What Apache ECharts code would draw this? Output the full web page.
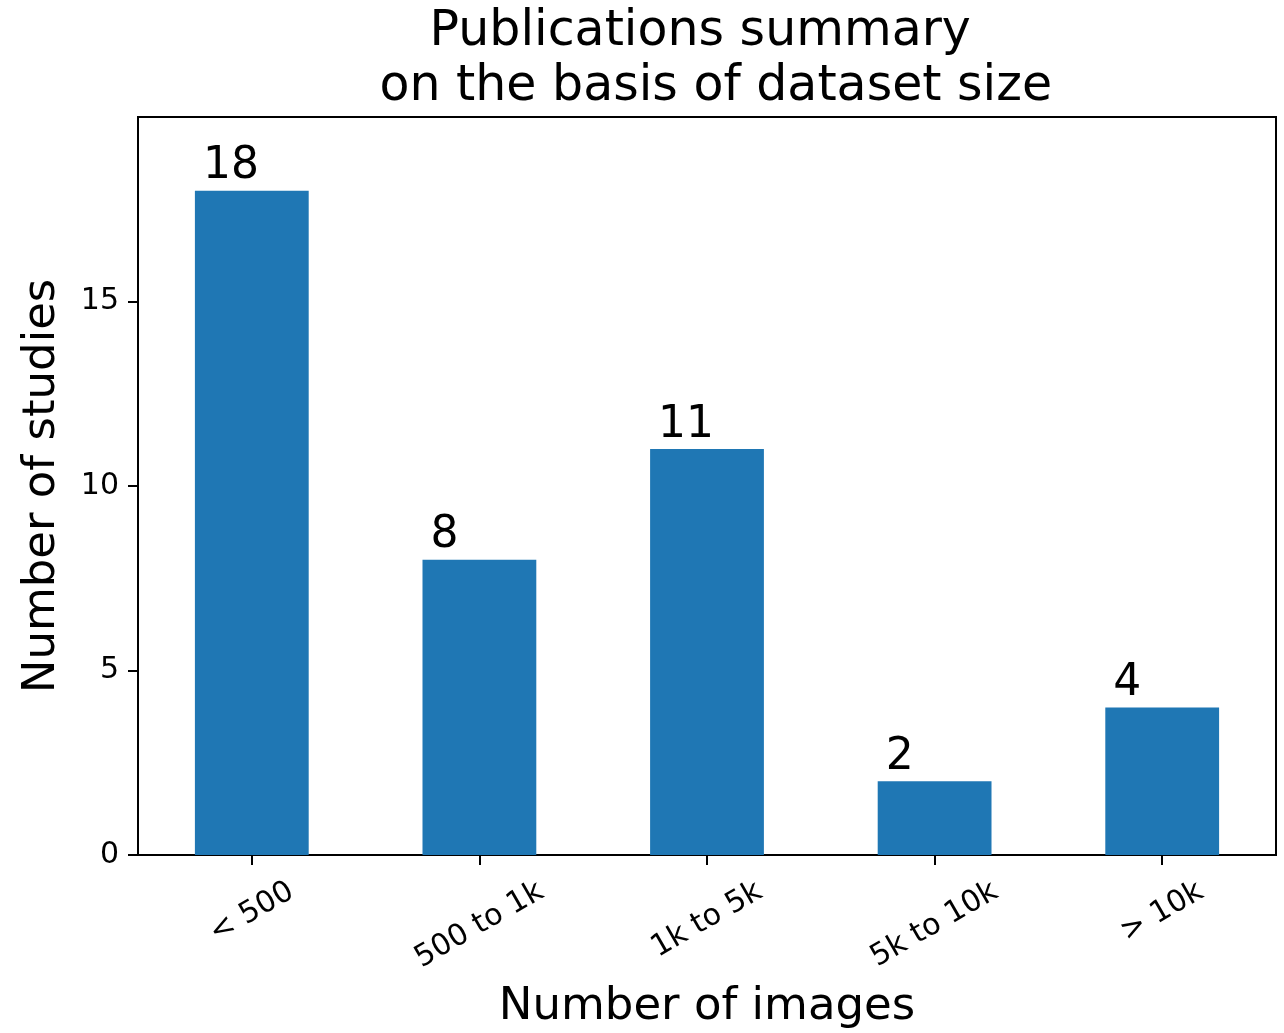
<!DOCTYPE html>
<html>
<head>
<meta charset="utf-8">
<script src="https://cdn.jsdelivr.net/npm/echarts@6/dist/echarts.min.js"></script>
<style>
html,body{margin:0;padding:0;background:#fff;}
#chart{width:1284px;height:1033px;}
</style>
</head>
<body>
<div id="chart"></div>
<script>
const categories = ['< 500', '500 to 1k', '1k to 5k', '5k to 10k', '> 10k'];
const studies = [18, 8, 11, 2, 4];
const yTicks = [0, 5, 10, 15];
const titleText = 'Publications summary \n on the basis of dataset size';
const xName = 'Number of images';
const yName = 'Number of studies';

const FONT = '"DejaVu Sans", sans-serif';
const tickFont = 30;

// per-label padding so rotated labels are top-aligned (matplotlib ha=center)
const cv = document.createElement('canvas').getContext('2d');
cv.font = tickFont + 'px "DejaVu Sans"';
const widths = categories.map(c => cv.measureText(c).width);
const wmin = Math.min.apply(null, widths);
const rich = {};
categories.forEach((c, i) => {
  const R = (widths[i] - wmin) / 4;
  rich['l' + i] = {
    fontSize: tickFont, fontFamily: FONT, color: '#000',
    padding: [R * 1.732, R, 0, 0]
  };
});

const chart = echarts.init(document.getElementById('chart'));
chart.setOption({
  animation: false,
  backgroundColor: '#fff',
  title: {
    text: titleText,
    left: 703,
    top: 0,
    textAlign: 'center',
    textStyle: { fontFamily: FONT, fontSize: 49, fontWeight: 'normal', color: '#000', lineHeight: 55 }
  },
  grid: {
    left: 138, right: 8, top: 117, bottom: 178,
    outerBoundsMode: 'none',
    containLabel: false,
    show: true, borderColor: '#000', borderWidth: 2, backgroundColor: 'transparent'
  },
  xAxis: {
    type: 'category',
    data: categories,
    boundaryGap: true,
    axisLine: { lineStyle: { color: '#000', width: 2 } },
    axisTick: { show: true, alignWithLabel: true, interval: 0, length: 10, lineStyle: { color: '#000', width: 2 } },
    axisLabel: {
      interval: 0, rotate: 30, align: 'center', verticalAlign: 'middle', margin: 57,
      formatter: (v, i) => '{l' + i + '|' + v + '}',
      rich: rich
    },
    name: xName,
    nameLocation: 'middle',
    nameGap: 130,
    nameTextStyle: { fontFamily: FONT, fontSize: 45, color: '#000' }
  },
  yAxis: {
    type: 'value',
    min: 0, max: 20, interval: 5,
    splitLine: { show: false },
    axisLine: { show: true, lineStyle: { color: '#000', width: 2 } },
    axisTick: { show: true, length: 10, customValues: yTicks, lineStyle: { color: '#000', width: 2 } },
    axisLabel: { customValues: yTicks, fontFamily: FONT, fontSize: tickFont, color: '#000', margin: 19 },
    name: yName,
    nameLocation: 'middle',
    nameGap: 73,
    nameTextStyle: { fontFamily: FONT, fontSize: 45, color: '#000' }
  },
  series: [{
    type: 'bar',
    data: studies,
    barWidth: '50%',
    itemStyle: { color: '#1f77b4' },
    label: {
      show: true,
      position: [8, -2],
      align: 'left',
      verticalAlign: 'bottom',
      fontFamily: FONT, fontSize: 44, color: '#000'
    }
  }]
});
</script>
</body>
</html>
